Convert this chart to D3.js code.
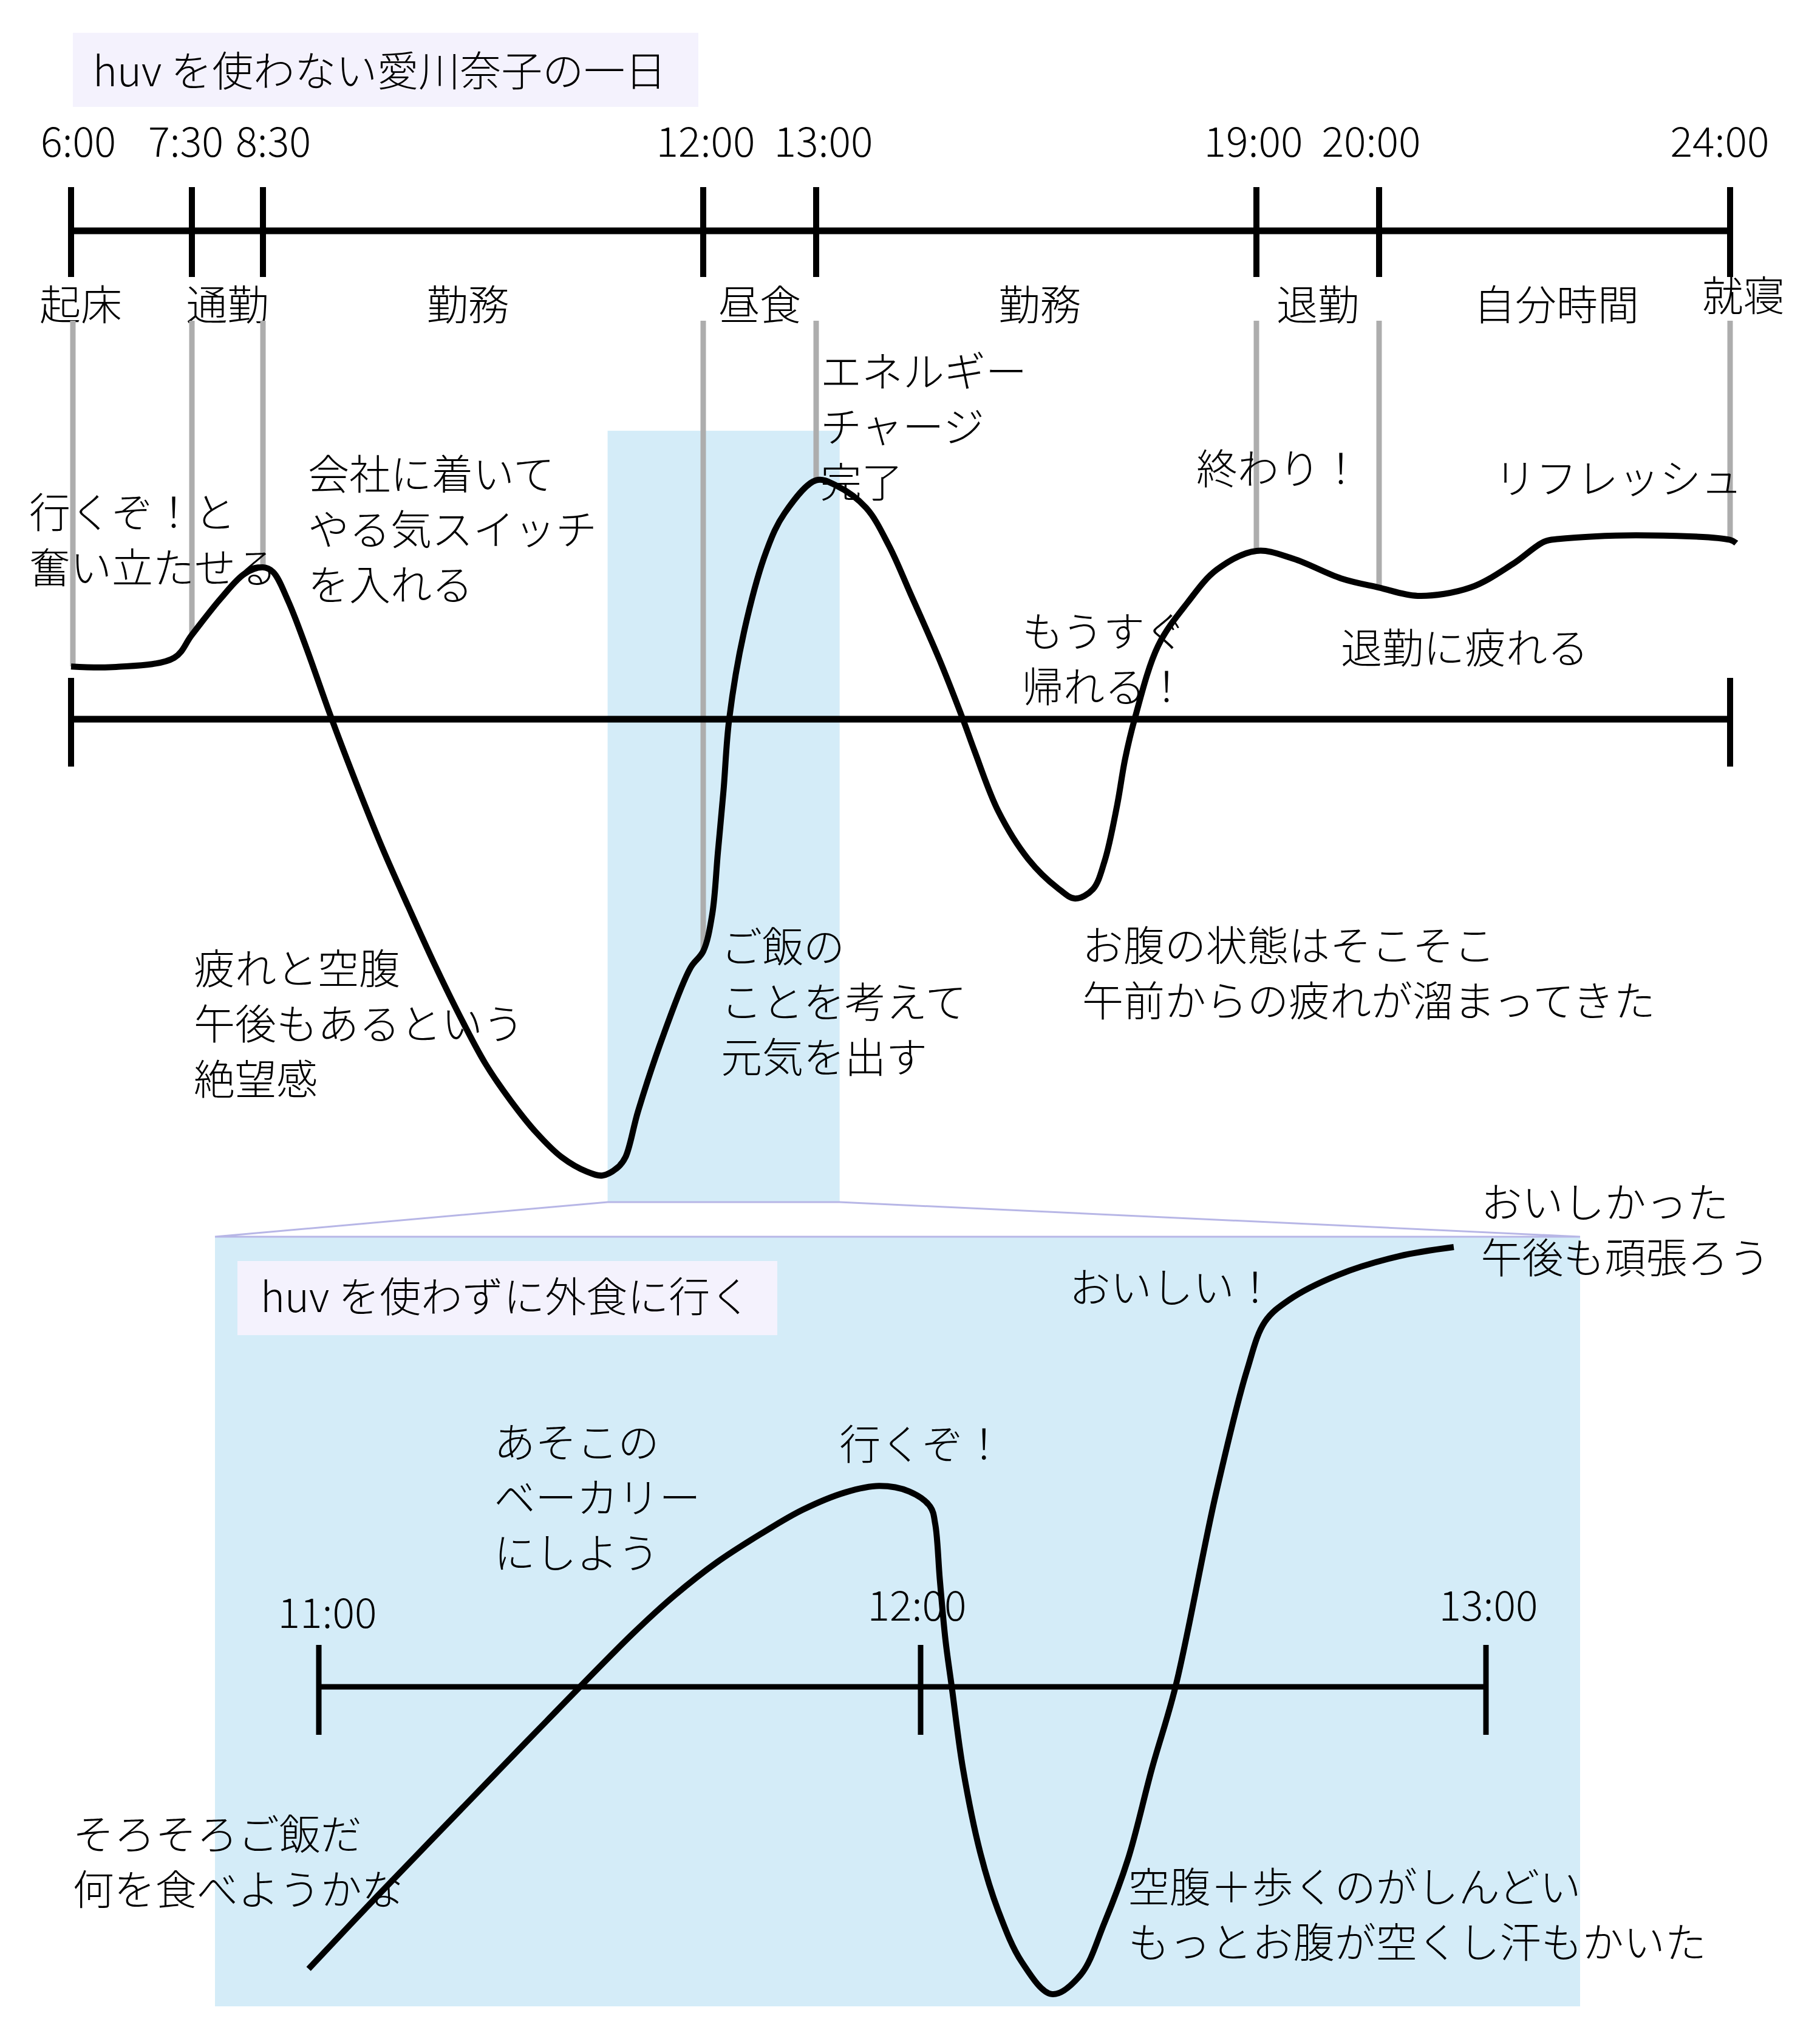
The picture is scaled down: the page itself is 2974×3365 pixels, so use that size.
<!DOCTYPE html>
<html><head><meta charset="utf-8">
<script src="https://cdn.jsdelivr.net/npm/d3@7"></script>
<style>
body{margin:0;background:#fff}
text{font-family:"Noto Sans CJK JP","Noto Sans",sans-serif;font-size:68px;font-weight:300;fill:#000}
</style>
</head><body>
<svg id="c" width="2974" height="3365"></svg>
<script>
// ---------------- DATA ----------------
const mainTitle = "huv を使わない愛川奈子の一日";
const lunchTitle = "huv を使わずに外食に行く";

const tickHours  = [6, 7.5, 8.5, 12, 13, 19, 20, 24];
const tickLabels = ["6:00","7:30","8:30","12:00","13:00","19:00","20:00","24:00"];

const phaseLabels     = ["起床","通勤","勤務","昼食","勤務","退勤","自分時間","就寝"];
const phaseLabelHours = [6.12, 8, 10.13, 12.5, 16.05, 19.5, 22.02, 24.15];

const dayHours = [6.0,6.56,7.28,7.5,7.91,8.24,8.5,8.58,8.70,8.843,9.046,9.248,9.451,9.656,9.86,10.063,10.266,10.47,10.672,10.875,11.078,11.199,11.322,11.382,11.483,11.691,11.899,12.0,12.08,12.13,12.18,12.23,12.36,12.56,12.72,13.0,13.28,13.68,13.99,14.29,14.68,15.0,15.16,15.48,15.89,16.29,16.53,16.77,16.93,17.10,17.21,17.34,17.66,18.06,18.46,19.0,19.30,19.69,20.0,20.44,21.04,21.52,21.88,22.05,22.93,24.0,24.07];
const dayEnergy = [11.5,11.4,13.4,18.4,26.4,31.7,33.1,32.1,25.8,15.7,0.1,-14.4,-28.2,-40.9,-53.2,-64.6,-75.0,-83.2,-90.1,-95.5,-98.7,-99.5,-97.7,-95.5,-85.4,-68.3,-54.2,-50.6,-42.5,-29.0,-15.5,0,18.9,36.7,44.9,52.1,50.9,46.1,37.9,27.2,13.0,0,-7.0,-20.0,-30.5,-36.8,-39.1,-37.1,-31.0,-18.9,-8.7,0,16.0,25.4,32.6,36.7,35.0,30.7,28.7,26.9,28.7,33.8,38.7,39.3,40.1,39.1,38.4];

const zoomWindowHours  = [11.24, 13.32];
const zoomWindowEnergy = [62.9, -105.3];

const lunchTicks      = [11, 12, 13];
const lunchTickLabels = ["11:00","12:00","13:00"];
const lunchHours  = [10.983,11.096,11.238,11.379,11.521,11.591,11.662,11.734,11.804,11.875,11.931,11.981,12.017,12.026,12.034,12.044,12.055,12.075,12.106,12.137,12.179,12.232,12.283,12.325,12.367,12.409,12.451,12.522,12.577,12.609,12.652,12.738,12.846,12.943];
const lunchEnergy = [-61.5,-45.8,-26.5,-7.4,11.5,19.9,27.2,33.3,38.6,42.4,43.8,42.6,39.3,35.4,23.4,10.2,0.1,-17.9,-36.4,-48.7,-60.0,-67.0,-62.8,-51.5,-37.5,-17.9,0.1,41.9,68.9,79.6,84.4,89.8,93.9,95.9];

const dayNotes = [
  ["行くぞ！と","奮い立たせる"],
  ["会社に着いて","やる気スイッチ","を入れる"],
  ["エネルギー","チャージ","完了"],
  ["終わり！"],
  ["リフレッシュ"],
  ["もうすぐ","帰れる！"],
  ["退勤に疲れる"],
  ["疲れと空腹","午後もあるという","絶望感"],
  ["ご飯の","ことを考えて","元気を出す"],
  ["お腹の状態はそこそこ","午前からの疲れが溜まってきた"]
];
const dayNoteHours  = [5.48, 8.857, 13.058, 18.18, 21.315, 15.806, 19.688, 7.526, 12.156, 16.625];
const dayNoteEnergy = [41.7, 50.1, 72.5, 51.3, 49.1, 15.8, 12.2, -57.7, -53.0, -52.7];

const lunchNotes = [
  ["おいしかった","午後も頑張ろう"],
  ["おいしい！"],
  ["あそこの","ベーカリー","にしよう"],
  ["行くぞ！"],
  ["そろそろご飯だ","何を食べようかな"],
  ["空腹＋歩くのがしんどい","もっとお腹が空くし汗もかいた"]
];
const lunchNoteHours  = [12.991, 12.263, 11.291, 11.865, 10.591, 12.367];
const lunchNoteEnergy = [102.3, 83.7, 49.9, 49.5, -35.5, -47.0];

// ---------------- LAYOUT / SCALES ----------------
const axisL = 117, axisR = 2849;
const tickFrac = [0, 0.07284, 0.11567, 0.38104, 0.44912, 0.71449, 0.78843, 1];
const tickLabelShift = [12, -10, 17, 4, 12, -5, -13, -17];
const x  = d3.scaleLinear().domain(tickHours).range(tickFrac.map(f => axisL + f*(axisR-axisL)));
const y  = d3.scaleLinear().domain([0,-100]).range([1184,1939]);
const lunchL = 525, lunchR = 2447;
const xL = d3.scaleLinear().domain(lunchTicks).range([0, 0.5156, 1].map(f => lunchL + f*(lunchR-lunchL)));
const yL = d3.scaleLinear().domain([0,-100]).range([2777,3532]);

const topAxisY = 380, labelY = 527, grayTop = 528, lineH = 91;
const panel = {x0:354, x1:2602, y0:2036, y1:3303};
const BLUE = "#d4ecf8", LAV = "#b7b6e6", TBG = "#f4f2fd";
const digitW = n => n === 4 ? 124 : 163;

const svg = d3.select("#c");

// highlight window in top chart
const wx0 = x(zoomWindowHours[0]), wx1 = x(zoomWindowHours[1]);
const wy0 = y(zoomWindowEnergy[0]), wy1 = y(zoomWindowEnergy[1]);
svg.append("rect").attr("x",wx0).attr("y",wy0).attr("width",wx1-wx0).attr("height",wy1-wy0).attr("fill",BLUE);

// lower panel
svg.append("rect").attr("x",panel.x0).attr("y",panel.y0).attr("width",panel.x1-panel.x0).attr("height",panel.y1-panel.y0).attr("fill",BLUE);

// connector lines
svg.append("path").attr("d",`M${panel.x0},${panel.y0}L${wx0},${wy1}L${wx1},${wy1}L${panel.x1},${panel.y0}Z`)
  .attr("stroke",LAV).attr("stroke-width",3).attr("fill","none");

// title boxes
svg.append("rect").attr("x",120).attr("y",54).attr("width",1030).attr("height",122).attr("fill",TBG);
svg.append("text").attr("x",153).attr("y",142).text(mainTitle);
svg.append("rect").attr("x",391).attr("y",2076).attr("width",889).attr("height",122).attr("fill",TBG);
svg.append("text").attr("x",429).attr("y",2160).text(lunchTitle);

// top time axis
svg.append("line").attr("x1",x(6)).attr("x2",x(24)).attr("y1",topAxisY).attr("y2",topAxisY)
  .attr("stroke","#000").attr("stroke-width",11);
svg.append("g").selectAll("line").data(tickHours).join("line")
  .attr("x1",d=>x(d)).attr("x2",d=>x(d)).attr("y1",topAxisY-72).attr("y2",topAxisY+76)
  .attr("stroke","#000").attr("stroke-width",10);
svg.append("g").selectAll("text").data(tickHours).join("text")
  .attr("x",(d,i)=>x(d)+tickLabelShift[i]).attr("y",258).attr("text-anchor","middle")
  .attr("textLength",(d,i)=>digitW(tickLabels[i].length)).attr("lengthAdjust","spacingAndGlyphs")
  .text((d,i)=>tickLabels[i]);
svg.append("g").selectAll("text").data(phaseLabels).join("text")
  .attr("x",(d,i)=>x(phaseLabelHours[i])).attr("y",(d,i)=>i===phaseLabels.length-1?512:labelY)
  .attr("text-anchor","middle").text(d=>d);

// gray guide lines down to curve
const energyAt = h => dayEnergy[dayHours.indexOf(h)];
svg.append("g").selectAll("line").data(tickHours).join("line")
  .attr("x1",d=>x(d)+(d===6?3:0)).attr("x2",d=>x(d)+(d===6?3:0))
  .attr("y1",grayTop).attr("y2",d=>y(energyAt(d)))
  .attr("stroke","#adadad").attr("stroke-width",9);

// zero baseline of the day chart
svg.append("line").attr("x1",x(6)).attr("x2",x(24)).attr("y1",y(0)).attr("y2",y(0))
  .attr("stroke","#000").attr("stroke-width",11);
svg.append("g").selectAll("line").data([6,24]).join("line")
  .attr("x1",d=>x(d)).attr("x2",d=>x(d)).attr("y1",y(0)-68).attr("y2",y(0)+78)
  .attr("stroke","#000").attr("stroke-width",10);

// day curve
const dayLine = d3.line().x(d=>x(d[0])).y(d=>y(d[1])).curve(d3.curveCatmullRom.alpha(0.5));
svg.append("path").datum(dayHours.map((h,i)=>[h,dayEnergy[i]]))
  .attr("d",dayLine).attr("fill","none").attr("stroke","#000").attr("stroke-width",10)
  .attr("stroke-linejoin","round");

// lunch axis
svg.append("line").attr("x1",xL(11)).attr("x2",xL(13)).attr("y1",yL(0)).attr("y2",yL(0))
  .attr("stroke","#000").attr("stroke-width",9);
svg.append("g").selectAll("line").data(lunchTicks).join("line")
  .attr("x1",d=>xL(d)).attr("x2",d=>xL(d)).attr("y1",yL(0)-69).attr("y2",yL(0)+79)
  .attr("stroke","#000").attr("stroke-width",9);
svg.append("g").selectAll("text").data(lunchTicks).join("text")
  .attr("x",(d,i)=>xL(d)+[14,-6,4][i]).attr("y",(d,i)=>i===0?2680:2668).attr("text-anchor","middle")
  .attr("textLength",163).attr("lengthAdjust","spacingAndGlyphs")
  .text((d,i)=>lunchTickLabels[i]);

// lunch curve
const lunchLine = d3.line().x(d=>xL(d[0])).y(d=>yL(d[1])).curve(d3.curveCatmullRom.alpha(0.5));
svg.append("path").datum(lunchHours.map((h,i)=>[h,lunchEnergy[i]]))
  .attr("d",lunchLine).attr("fill","none").attr("stroke","#000").attr("stroke-width",10)
  .attr("stroke-linejoin","round");

// notes
function notes(list, hs, es, sx, sy){
  const g = svg.append("g");
  list.forEach((lines,i)=>{
    const t = g.append("text").attr("x",sx(hs[i])).attr("y",sy(es[i]));
    lines.forEach((s,j)=>t.append("tspan").attr("x",sx(hs[i])).attr("dy",j?lineH:0).text(s));
  });
}
notes(dayNotes, dayNoteHours, dayNoteEnergy, x, y);
notes(lunchNotes, lunchNoteHours, lunchNoteEnergy, xL, yL);
</script>
</body></html>
